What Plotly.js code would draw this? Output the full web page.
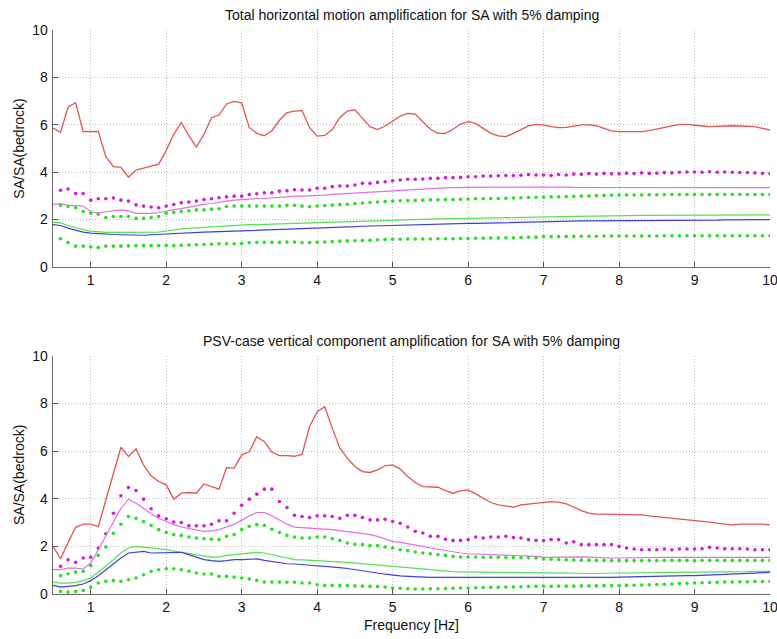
<!DOCTYPE html>
<html>
<head>
<meta charset="utf-8">
<script src="https://cdn.plot.ly/plotly-3.0.1.min.js"></script>
<style>html,body{margin:0;padding:0;background:#fff}#chart{width:777px;height:639px}</style>
</head>
<body>
<div id="chart"></div>
<script>
// Frequency samples [Hz]
var freq = [
 0.5,0.6,0.7,0.8,0.9,1.0,1.1,1.2,1.3,1.4,
 1.5,1.6,1.7,1.8,1.9,2.0,2.1,2.2,2.3,2.4,
 2.5,2.6,2.7,2.8,2.9,3.0,3.1,3.2,3.3,3.4,
 3.5,3.6,3.7,3.8,3.9,4.0,4.1,4.2,4.3,4.4,
 4.5,4.6,4.7,4.8,4.9,5.0,5.1,5.2,5.3,5.4,
 5.5,5.6,5.7,5.8,5.9,6.0,6.1,6.2,6.3,6.4,
 6.5,6.6,6.7,6.8,6.9,7.0,7.1,7.2,7.3,7.4,
 7.5,7.6,7.7,7.8,7.9,8.0,8.1,8.2,8.3,8.4,
 8.5,8.6,8.7,8.8,8.9,9.0,9.1,9.2,9.3,9.4,
 9.5,9.6,9.7,9.8,9.9,10.0];

// ---------- Top panel: total horizontal motion ----------
var topRed = [
 5.86,5.68,6.75,6.93,5.71,5.72,5.72,4.65,4.23,4.20,
 3.79,4.09,4.16,4.26,4.34,4.92,5.60,6.10,5.54,5.06,
 5.60,6.30,6.41,6.88,6.99,6.93,5.89,5.64,5.54,5.75,
 6.19,6.51,6.58,6.60,5.88,5.52,5.55,5.80,6.30,6.58,
 6.63,6.27,5.92,5.80,5.95,6.15,6.37,6.48,6.45,6.13,
 5.81,5.64,5.64,5.81,6.03,6.13,6.06,5.85,5.64,5.53,
 5.50,5.64,5.78,5.95,6.02,6.00,5.92,5.88,5.89,5.95,
 6.00,6.00,5.96,5.85,5.74,5.71,5.71,5.71,5.71,5.75,
 5.82,5.89,5.96,6.02,6.02,6.00,5.95,5.92,5.94,5.96,
 5.96,5.95,5.95,5.92,5.85,5.78];
var topMagDot = [
 null,3.24,3.29,3.10,3.10,2.82,2.88,2.88,2.91,2.82,
 2.78,2.62,2.57,2.53,2.50,2.57,2.64,2.71,2.74,2.78,
 2.85,2.88,2.92,2.96,2.99,2.99,3.06,3.09,3.13,3.13,
 3.20,3.22,3.26,3.25,3.25,3.32,3.32,3.39,3.42,3.42,
 3.46,3.53,3.53,3.57,3.60,3.64,3.67,3.70,3.70,3.71,
 3.74,3.74,3.77,3.77,3.78,3.81,3.81,3.84,3.84,3.85,
 3.86,3.86,3.87,3.90,3.88,3.88,3.86,3.90,3.88,3.92,
 3.91,3.94,3.92,3.95,3.93,3.93,3.96,3.94,3.97,3.95,
 3.96,3.98,3.97,4.00,4.01,4.01,4.00,4.02,4.00,4.01,
 4.00,3.99,3.99,3.97,3.95,3.94];
var topMag = [
 2.64,2.67,2.60,2.60,2.57,2.33,2.27,2.33,2.37,2.41,
 2.37,2.26,2.26,2.26,2.30,2.37,2.41,2.46,2.53,2.57,
 2.64,2.68,2.74,2.78,2.82,2.85,2.88,2.89,2.89,2.92,
 2.96,2.98,2.99,2.99,3.00,3.00,3.03,3.06,3.08,3.10,
 3.13,3.15,3.17,3.19,3.20,3.22,3.24,3.26,3.28,3.30,
 3.32,3.33,3.34,3.35,3.36,3.36,3.37,3.37,3.37,3.37,
 3.37,3.38,3.38,3.39,3.40,3.39,3.38,3.37,3.37,3.36,
 3.36,3.37,3.38,3.38,3.38,3.38,3.38,3.38,3.38,3.38,
 3.38,3.38,3.38,3.38,3.38,3.37,3.37,3.37,3.37,3.37,
 3.36,3.36,3.36,3.35,3.35,3.35];
var topGreenUp = [
 null,2.60,2.55,2.50,2.34,2.27,2.23,2.09,2.13,2.13,
 2.13,2.05,2.05,2.09,2.13,2.27,2.30,2.34,2.37,2.41,
 2.41,2.44,2.46,2.55,2.57,2.57,2.57,2.57,2.57,2.57,
 2.57,2.60,2.60,2.57,2.54,2.57,2.59,2.61,2.63,2.65,
 2.68,2.70,2.72,2.74,2.76,2.78,2.79,2.80,2.81,2.82,
 2.83,2.84,2.85,2.85,2.86,2.87,2.88,2.88,2.89,2.89,
 2.90,2.91,2.92,2.93,2.94,2.95,2.96,2.96,2.97,2.98,
 2.99,3.00,3.01,3.02,3.03,3.04,3.04,3.04,3.04,3.05,
 3.05,3.05,3.06,3.06,3.06,3.06,3.06,3.06,3.06,3.06,
 3.06,3.06,3.06,3.06,3.06,3.06];
var topGreen = [
 1.88,1.86,1.75,1.65,1.58,1.51,1.47,1.46,1.46,1.46,
 1.46,1.46,1.46,1.46,1.47,1.52,1.57,1.61,1.63,1.65,
 1.67,1.70,1.72,1.75,1.77,1.79,1.79,1.79,1.80,1.82,
 1.84,1.85,1.85,1.85,1.85,1.86,1.87,1.88,1.89,1.90,
 1.91,1.92,1.94,1.96,1.97,1.98,1.99,2.00,2.01,2.02,
 2.02,2.03,2.03,2.04,2.04,2.05,2.05,2.06,2.07,2.07,
 2.08,2.08,2.09,2.09,2.10,2.12,2.12,2.13,2.13,2.14,
 2.14,2.15,2.15,2.16,2.16,2.17,2.17,2.17,2.18,2.18,
 2.18,2.19,2.19,2.19,2.19,2.20,2.20,2.20,2.20,2.20,
 2.20,2.20,2.20,2.20,2.20,2.20];
var topBlue = [
 1.79,1.75,1.64,1.54,1.47,1.43,1.40,1.38,1.37,1.36,
 1.35,1.33,1.34,1.36,1.38,1.40,1.42,1.44,1.45,1.46,
 1.47,1.48,1.49,1.50,1.51,1.52,1.53,1.54,1.55,1.56,
 1.57,1.58,1.59,1.60,1.61,1.63,1.64,1.66,1.67,1.69,
 1.70,1.72,1.73,1.75,1.76,1.77,1.78,1.79,1.80,1.81,
 1.81,1.82,1.82,1.83,1.83,1.84,1.84,1.85,1.85,1.86,
 1.86,1.86,1.87,1.88,1.90,1.91,1.92,1.93,1.94,1.95,
 1.95,1.95,1.95,1.95,1.95,1.95,1.95,1.96,1.96,1.96,
 1.97,1.97,1.97,1.97,1.98,1.98,1.98,1.98,1.98,1.99,
 1.99,1.99,1.99,2.00,2.00,2.00];
var topGreenLow = [
 null,1.19,1.03,0.88,0.88,0.85,0.82,0.88,0.88,0.88,
 0.89,0.90,0.90,0.90,0.90,0.90,0.90,0.92,0.93,0.94,
 0.95,0.96,0.98,0.98,0.98,0.99,1.02,1.04,1.04,1.04,
 1.04,1.05,1.05,1.02,1.03,1.04,1.05,1.07,1.09,1.10,
 1.11,1.12,1.13,1.15,1.16,1.17,1.17,1.18,1.18,1.18,
 1.18,1.19,1.19,1.19,1.20,1.20,1.21,1.21,1.22,1.22,
 1.23,1.23,1.24,1.25,1.26,1.28,1.28,1.28,1.29,1.29,
 1.30,1.30,1.30,1.31,1.31,1.31,1.31,1.31,1.31,1.31,
 1.31,1.32,1.32,1.32,1.32,1.32,1.32,1.32,1.32,1.32,
 1.32,1.32,1.32,1.32,1.32,1.32];

// ---------- Bottom panel: PSV-case vertical component ----------
var botRed = [
 2.00,1.48,2.16,2.80,2.93,2.93,2.83,3.95,5.14,6.16,
 5.77,6.09,5.42,4.96,4.72,4.58,3.98,4.23,4.26,4.23,
 4.62,4.51,4.40,5.30,5.28,5.84,5.97,6.60,6.39,5.95,
 5.81,5.81,5.78,5.86,7.03,7.65,7.86,6.96,6.12,5.70,
 5.35,5.14,5.10,5.21,5.38,5.42,5.24,4.93,4.68,4.51,
 4.48,4.48,4.34,4.23,4.33,4.37,4.20,4.02,3.84,3.74,
 3.70,3.65,3.74,3.78,3.81,3.85,3.88,3.86,3.78,3.65,
 3.50,3.39,3.35,3.35,3.35,3.35,3.35,3.35,3.32,3.28,
 3.25,3.23,3.18,3.16,3.14,3.11,3.07,3.02,2.97,2.93,
 2.90,2.93,2.94,2.94,2.93,2.90];
var botMagDot = [
 null,1.16,1.44,1.33,1.51,1.54,1.93,2.53,3.39,4.12,
 4.47,4.34,3.98,3.58,3.28,3.16,3.02,3.00,2.86,2.86,
 2.86,2.93,3.07,3.07,3.39,3.72,3.98,4.19,4.40,4.40,
 3.88,3.63,3.30,3.25,3.21,3.28,3.28,3.25,3.18,3.30,
 3.30,3.21,3.11,3.11,3.14,3.04,2.97,2.81,2.63,2.56,
 2.42,2.42,2.30,2.25,2.25,2.28,2.39,2.35,2.39,2.39,
 2.42,2.37,2.35,2.28,2.25,2.24,2.28,2.28,2.14,2.19,
 2.07,2.07,2.07,2.07,2.07,2.00,1.93,1.89,1.86,1.86,
 1.86,1.89,1.86,1.89,1.89,1.89,1.90,1.96,1.93,1.90,
 1.90,1.90,1.89,1.86,1.86,1.86];
var botMag = [
 1.02,1.02,1.09,1.09,1.05,1.30,1.86,2.42,3.04,3.60,
 3.98,3.81,3.60,3.37,3.18,3.04,2.91,2.81,2.74,2.70,
 2.63,2.65,2.70,2.81,2.93,3.09,3.28,3.42,3.42,3.28,
 3.11,2.93,2.81,2.79,2.78,2.77,2.74,2.70,2.66,2.62,
 2.58,2.54,2.49,2.42,2.32,2.21,2.17,2.12,2.07,2.00,
 1.93,1.87,1.81,1.75,1.72,1.69,1.68,1.66,1.65,1.64,
 1.63,1.62,1.61,1.60,1.58,1.54,1.55,1.56,1.57,1.58,
 1.56,1.55,1.53,1.52,1.51,1.51,1.52,1.52,1.53,1.53,
 1.53,1.54,1.54,1.54,1.54,1.54,1.54,1.54,1.54,1.54,
 1.54,1.54,1.54,1.54,1.54,1.54];
var botGreenUp = [
 null,0.77,0.85,0.92,0.95,1.19,1.62,1.97,2.55,2.93,
 3.25,3.18,3.04,2.88,2.70,2.58,2.49,2.46,2.39,2.35,
 2.32,2.30,2.28,2.42,2.49,2.70,2.84,2.91,2.88,2.72,
 2.58,2.46,2.39,2.35,2.35,2.39,2.39,2.32,2.25,2.14,
 2.09,2.07,2.03,2.03,1.97,1.93,1.86,1.82,1.76,1.72,
 1.69,1.65,1.62,1.58,1.55,1.55,1.55,1.54,1.54,1.54,
 1.53,1.53,1.52,1.52,1.51,1.47,1.46,1.45,1.44,1.43,
 1.42,1.42,1.41,1.41,1.40,1.40,1.40,1.40,1.40,1.40,
 1.40,1.41,1.41,1.41,1.41,1.40,1.41,1.41,1.41,1.41,
 1.41,1.41,1.41,1.41,1.41,1.41];
var botGreen = [
 0.50,0.46,0.46,0.49,0.56,0.67,0.91,1.16,1.44,1.72,
 1.93,2.00,1.97,1.93,1.90,1.86,1.80,1.75,1.69,1.62,
 1.58,1.55,1.55,1.62,1.65,1.69,1.72,1.75,1.72,1.65,
 1.55,1.48,1.44,1.43,1.42,1.41,1.39,1.37,1.35,1.33,
 1.30,1.28,1.25,1.23,1.20,1.16,1.12,1.09,1.06,1.03,
 1.00,0.97,0.95,0.94,0.93,0.92,0.92,0.92,0.91,0.91,
 0.91,0.91,0.91,0.91,0.91,0.91,0.90,0.89,0.88,0.87,
 0.86,0.86,0.86,0.87,0.87,0.88,0.88,0.89,0.89,0.90,
 0.90,0.90,0.91,0.91,0.92,0.92,0.92,0.93,0.93,0.93,
 0.94,0.94,0.94,0.95,0.95,0.95];
var botBlue = [
 0.36,0.29,0.32,0.35,0.42,0.56,0.77,1.02,1.27,1.51,
 1.72,1.76,1.79,1.72,1.72,1.72,1.72,1.75,1.65,1.54,
 1.44,1.40,1.37,1.40,1.44,1.44,1.47,1.47,1.41,1.37,
 1.30,1.27,1.26,1.24,1.22,1.20,1.17,1.14,1.11,1.07,
 1.03,0.98,0.93,0.88,0.83,0.78,0.76,0.74,0.72,0.71,
 0.70,0.70,0.70,0.70,0.70,0.70,0.70,0.70,0.70,0.70,
 0.70,0.70,0.70,0.70,0.70,0.70,0.69,0.68,0.68,0.67,
 0.67,0.67,0.67,0.68,0.70,0.71,0.72,0.73,0.73,0.74,
 0.75,0.75,0.76,0.76,0.77,0.77,0.78,0.80,0.81,0.83,
 0.84,0.85,0.87,0.88,0.90,0.91];
var botGreenLow = [
 null,0.11,0.08,0.11,0.15,0.29,0.46,0.53,0.56,0.53,
 0.60,0.67,0.81,0.95,1.02,1.06,1.06,1.02,0.95,0.88,
 0.84,0.84,0.74,0.74,0.71,0.67,0.63,0.57,0.50,0.50,
 0.50,0.49,0.49,0.46,0.46,0.39,0.36,0.36,0.35,0.35,
 0.34,0.33,0.32,0.31,0.29,0.25,0.24,0.22,0.21,0.21,
 0.22,0.22,0.23,0.24,0.25,0.25,0.26,0.27,0.28,0.28,
 0.29,0.29,0.30,0.31,0.32,0.32,0.32,0.33,0.33,0.33,
 0.34,0.34,0.34,0.35,0.35,0.35,0.36,0.37,0.38,0.39,
 0.40,0.41,0.42,0.44,0.45,0.46,0.47,0.48,0.49,0.50,
 0.50,0.51,0.51,0.52,0.52,0.53];

var titleTop = 'Total horizontal motion amplification for SA with 5% damping';
var titleBot = 'PSV-case vertical component amplification for SA with 5% damping';
var yLabel = 'SA/SA(bedrock)';
var xLabel = 'Frequency [Hz]';
var xTicks = [1,2,3,4,5,6,7,8,9,10];
var yTicks = [0,2,4,6,8,10];

var C = {red:'#e4544f', mag:'#e36ee3', magDot:'#d01ed0', green:'#55e055', greenDot:'#25e025', blue:'#3f3fd8'};

function line(y, color, xa, ya, w){
  return {x:freq, y:y, xaxis:xa, yaxis:ya, type:'scatter', mode:'lines',
          line:{color:color, width:w||1.2}, hoverinfo:'skip', showlegend:false, connectgaps:false};
}
function dots(y, color, xa, ya){
  return {x:freq, y:y, xaxis:xa, yaxis:ya, type:'scatter', mode:'markers',
          marker:{color:color, size:3.6, line:{width:0}}, hoverinfo:'skip', showlegend:false};
}

var traces = [
  line(topRed, C.red, 'x', 'y', 1.3),
  dots(topMagDot, C.magDot, 'x', 'y'),
  line(topMag, C.mag, 'x', 'y'),
  dots(topGreenUp, C.greenDot, 'x', 'y'),
  line(topGreen, C.green, 'x', 'y'),
  line(topBlue, C.blue, 'x', 'y'),
  dots(topGreenLow, C.greenDot, 'x', 'y'),
  line(botRed, C.red, 'x2', 'y2', 1.3),
  dots(botMagDot, C.magDot, 'x2', 'y2'),
  line(botMag, C.mag, 'x2', 'y2'),
  dots(botGreenUp, C.greenDot, 'x2', 'y2'),
  line(botGreen, C.green, 'x2', 'y2'),
  line(botBlue, C.blue, 'x2', 'y2'),
  dots(botGreenLow, C.greenDot, 'x2', 'y2')
];

var fam = 'Arimo, "Liberation Sans", Arial, Helvetica, sans-serif';
var font = {family:fam, size:14, color:'#111'};
function xax(anchor, title){
  var a = {anchor:anchor, range:[0.5,10], tickvals:xTicks, ticktext:xTicks.map(String),
    ticks:'inside', ticklen:5, tickcolor:'#555', showline:true, linecolor:'#6a6a6a', linewidth:1.3,
    showgrid:true, gridcolor:'#bdbdbd', griddash:'1px,2px', gridwidth:1, zeroline:false,
    tickfont:{family:fam, size:14, color:'#111'}, ticklabeloverflow:'allow', mirror:false, fixedrange:true};
  if (title) a.title = {text:title, font:{family:fam, size:14, color:'#111'}, standoff:6};
  return a;
}
function yax(anchor, domain){
  return {anchor:anchor, domain:domain, range:[0,10], tickvals:yTicks, ticktext:yTicks.map(String),
    ticks:'inside', ticklen:5, tickcolor:'#555', showline:true, linecolor:'#6a6a6a', linewidth:1.3,
    showgrid:true, gridcolor:'#bdbdbd', griddash:'1px,2px', gridwidth:1, zeroline:false,
    tickfont:{family:fam, size:14, color:'#111'}, ticklabelstandoff:1,
    title:{text:yLabel, font:{family:fam, size:14, color:'#111'}, standoff:4}, fixedrange:true};
}

var layout = {
  width:777, height:639, paper_bgcolor:'#fff', plot_bgcolor:'#fff',
  margin:{l:53, r:7, t:30, b:45}, font:font, showlegend:false,
  xaxis: xax('y', null),
  yaxis: yax('x', [0.5798, 1]),
  xaxis2: xax('y2', xLabel),
  yaxis2: yax('x2', [0, 0.4225]),
  annotations:[
    {text:titleTop, xref:'paper', yref:'paper', x:0.5, y:1, yshift:15, xanchor:'center', yanchor:'middle', showarrow:false,
     font:{family:fam, size:14, color:'#111'}},
    {text:titleBot, xref:'paper', yref:'paper', x:0.5, y:0.4225, yshift:15, xanchor:'center', yanchor:'middle', showarrow:false,
     font:{family:fam, size:14, color:'#111'}}
  ]
};

Plotly.newPlot('chart', traces, layout, {staticPlot:true, displayModeBar:false});
</script>
</body>
</html>
